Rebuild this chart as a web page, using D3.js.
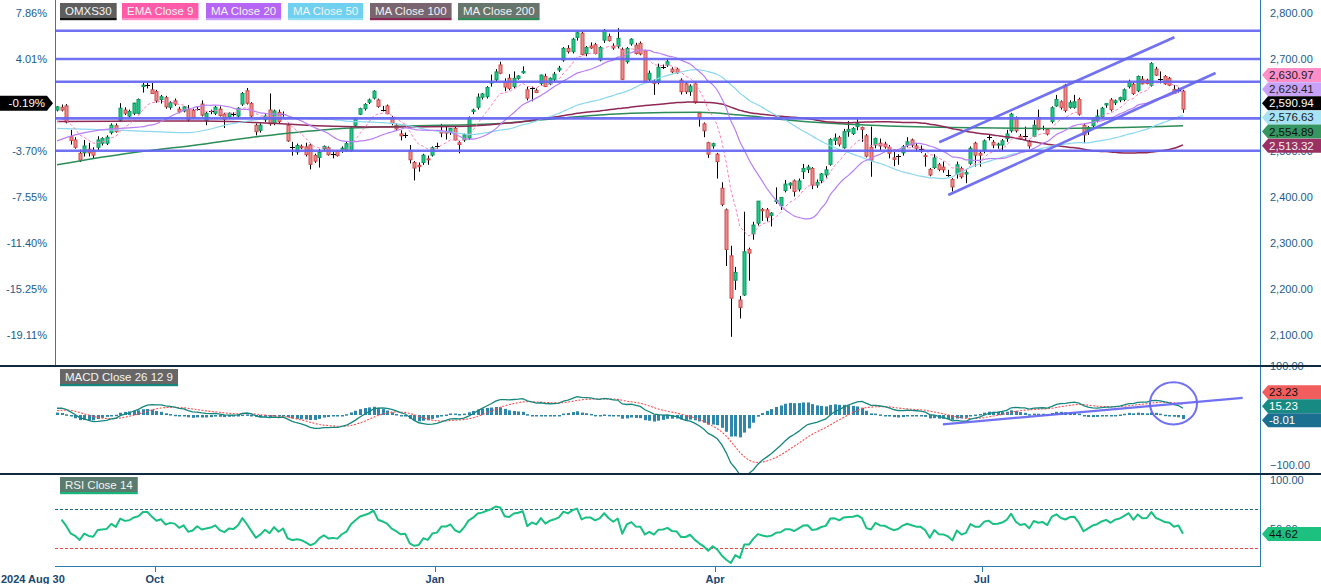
<!DOCTYPE html>
<html><head><meta charset="utf-8">
<script src="https://cdn.jsdelivr.net/npm/d3@7"></script>
<style>
html,body{margin:0;padding:0;background:#fff;}
svg{display:block;font-family:"Liberation Sans",Arial,sans-serif;}
</style></head><body>
<svg id="c" width="1321" height="584"></svg>
<script>
// ---------------- DATA ----------------
const opens = [
2589,2595,2598,2531,2524,2495,2496,2504,2501,2508,
2517,2517,2540,2555,2567,2589,2576,2582,2582,2640,
2643,2633,2629,2612,2616,2595,2609,2591,2587,2590,
2588,2592,2602,2566,2586,2582,2591,2580,2574,2580,
2576,2602,2631,2603,2556,2545,2568,2589,2560,2584,
2580,2556,2508,2498,2510,2509,2513,2490,2486,2505,
2507,2494,2499,2502,2502,2501,2556,2580,2592,2606,
2615,2611,2590,2598,2573,2556,2537,2535,2501,2475,
2469,2475,2483,2491,2511,2542,2542,2540,2549,2518,
2524,2528,2586,2595,2617,2618,2648,2655,2687,2649,
2658,2640,2658,2670,2633,2636,2632,2647,2662,2646,
2656,2676,2698,2723,2716,2747,2756,2712,2728,2731,
2698,2741,2749,2728,2728,2721,2694,2733,2730,2734,
2718,2656,2650,2649,2683,2687,2678,2678,2654,2646,
2629,2646,2582,2559,2518,2511,2493,2419,2372,2272,
2219,2176,2187,2286,2320,2343,2373,2372,2360,2390,
2381,2414,2426,2435,2417,2455,2460,2462,2426,2436,
2448,2471,2523,2529,2507,2542,2538,2553,2551,2533,
2508,2513,2517,2515,2508,2485,2489,2496,2513,2524,
2511,2505,2490,2460,2464,2470,2465,2448,2438,2450,
2462,2450,2473,2517,2495,2502,2530,2519,2513,2513,
2527,2544,2571,2532,2532,2520,2532,2573,2551,2547,
2564,2598,2607,2643,2595,2595,2612,2556,2544,2555,
2566,2575,2600,2611,2605,2611,2612,2640,2645,2631,
2656,2654,2643,2678,2656,2662,2658,2634,2632,2630];
const highs = [
2598,2601,2602,2546,2530,2503,2524,2518,2508,2532,
2530,2534,2560,2560,2604,2595,2590,2605,2614,2648,
2648,2648,2633,2622,2620,2608,2614,2596,2597,2600,
2592,2596,2610,2585,2590,2598,2597,2583,2584,2584,
2595,2628,2637,2606,2560,2560,2580,2625,2590,2590,
2586,2560,2520,2516,2514,2518,2516,2494,2504,2512,
2510,2500,2502,2510,2520,2552,2573,2594,2604,2614,
2632,2614,2598,2601,2576,2560,2545,2540,2513,2478,
2475,2494,2490,2510,2518,2559,2555,2550,2553,2522,
2538,2575,2592,2625,2626,2641,2666,2678,2694,2658,
2667,2673,2665,2684,2640,2640,2636,2666,2668,2660,
2672,2685,2726,2730,2746,2760,2760,2728,2736,2735,
2728,2765,2755,2734,2767,2725,2726,2745,2735,2738,
2720,2675,2656,2690,2688,2700,2682,2681,2658,2650,
2645,2650,2585,2562,2520,2518,2496,2432,2375,2294,
2248,2185,2368,2290,2346,2391,2376,2376,2367,2421,
2400,2437,2432,2438,2440,2472,2470,2465,2438,2452,
2467,2528,2538,2533,2548,2565,2552,2569,2553,2537,
2553,2529,2527,2520,2513,2498,2493,2513,2530,2527,
2517,2512,2495,2463,2493,2474,2477,2459,2441,2477,
2466,2458,2510,2520,2502,2525,2535,2524,2518,2526,
2546,2583,2575,2537,2553,2524,2567,2590,2555,2550,
2597,2622,2610,2646,2610,2622,2616,2560,2554,2573,
2590,2596,2604,2615,2612,2618,2636,2655,2649,2664,
2663,2657,2693,2683,2673,2665,2661,2643,2638,2633];
const lows = [
2586,2586,2560,2514,2505,2476,2488,2488,2484,2502,
2512,2513,2536,2540,2564,2578,2572,2578,2580,2627,
2636,2625,2605,2603,2592,2590,2598,2582,2584,2564,
2570,2588,2575,2556,2580,2578,2575,2550,2570,2575,
2572,2598,2601,2572,2534,2540,2563,2555,2556,2560,
2574,2520,2490,2492,2504,2488,2460,2474,2464,2500,
2490,2484,2488,2496,2498,2498,2554,2578,2588,2602,
2612,2594,2586,2580,2556,2546,2523,2528,2473,2436,
2455,2470,2470,2488,2505,2530,2525,2535,2523,2495,
2520,2524,2580,2590,2612,2614,2640,2650,2667,2630,
2632,2636,2655,2668,2610,2608,2626,2642,2640,2643,
2652,2672,2694,2712,2712,2740,2708,2706,2722,2710,
2695,2735,2738,2720,2723,2654,2690,2729,2710,2708,
2648,2650,2622,2645,2678,2683,2669,2668,2623,2624,
2620,2603,2553,2530,2485,2505,2440,2380,2250,2096,
2198,2136,2185,2218,2307,2338,2348,2347,2336,2385,
2372,2410,2418,2401,2412,2439,2452,2417,2420,2430,
2442,2468,2513,2510,2505,2531,2535,2545,2520,2486,
2444,2506,2502,2505,2484,2467,2470,2490,2508,2508,
2498,2496,2466,2445,2461,2456,2453,2444,2412,2440,
2440,2430,2470,2466,2466,2495,2523,2506,2505,2500,
2520,2540,2540,2524,2524,2505,2530,2545,2545,2534,
2560,2596,2590,2584,2592,2592,2577,2517,2535,2550,
2562,2570,2594,2586,2600,2606,2608,2636,2622,2628,
2645,2645,2640,2663,2647,2644,2641,2624,2627,2583];
const closes = [
2596,2589,2563,2523,2508,2480,2511,2496,2491,2524,
2527,2530,2556,2542,2593,2582,2586,2604,2612,2643,
2643,2625,2609,2618,2596,2605,2602,2585,2596,2568,
2573,2592,2578,2582,2586,2595,2577,2569,2582,2580,
2593,2625,2604,2576,2542,2556,2576,2559,2587,2564,
2580,2522,2508,2512,2507,2492,2471,2478,2497,2510,
2492,2494,2490,2506,2516,2549,2570,2592,2601,2611,
2630,2597,2590,2581,2560,2548,2533,2535,2481,2463,
2466,2491,2481,2507,2511,2539,2539,2549,2524,2514,
2535,2571,2589,2617,2624,2638,2650,2672,2669,2639,
2636,2658,2663,2673,2615,2636,2627,2665,2640,2658,
2667,2680,2723,2716,2743,2757,2710,2725,2724,2712,
2725,2762,2740,2724,2745,2656,2723,2743,2712,2711,
2651,2669,2647,2682,2683,2694,2672,2670,2629,2629,
2641,2605,2573,2544,2493,2516,2477,2384,2286,2180,
2236,2160,2281,2278,2339,2391,2370,2356,2365,2393,
2399,2428,2430,2412,2435,2462,2465,2426,2432,2450,
2459,2525,2528,2515,2542,2547,2549,2560,2547,2489,
2480,2527,2511,2509,2495,2482,2489,2509,2520,2513,
2506,2505,2489,2448,2485,2460,2459,2448,2422,2470,
2444,2453,2506,2491,2491,2522,2530,2513,2515,2522,
2537,2580,2544,2527,2532,2511,2556,2547,2551,2537,
2594,2612,2595,2588,2605,2607,2580,2535,2551,2568,
2576,2593,2603,2590,2609,2616,2633,2651,2625,2662,
2646,2647,2690,2665,2656,2646,2643,2625,2632,2590.94];

// moving-average values read before the full window is available ([index, value])
const ma20Early  = [[0,2522],[4,2535],[9,2545],[14,2549],[18,2552]];
const ma50Early  = [[0,2549],[15,2545],[29,2540],[39,2560],[48,2573]];
const ma100Early = [[0,2564],[17,2565],[32,2565],[46,2561],[61,2554],[76,2552],[88,2553],[98,2559]];
const ma200Read  = [[0,2470],[15,2494],[30,2512],[45,2532],[60,2547],[76,2554],[98,2560],[113,2573],
                    [127,2582],[142,2584],[151,2578],[162,2567],[180,2556],[198,2551],[220,2549],[249,2554.89]];
// indicator starting states
const ema9Seed = 2555;
const macdSeeds = [2570, 2556, 9];      // EMA12, EMA26, signal before first bar
const rsiSeeds = [11, 7];               // avg gain, avg loss before first bar

// drawn levels and annotations
const hLevels = [2761.5, 2700, 2650.5, 2571, 2500.5];
const channelUpper = [[195.1, 2518.9], [247.1, 2747.2]];
const channelLower = [[197.1, 2404.3], [256.2, 2669.6]];
const macdTrend = [[195.9, -17.2], [262.2, 36.0]];
const macdEllipse = [246.9, 24.8, 5.2, 42.4]; // centre index, centre value, radius (index), radius (value)

// axes
const priceTicks = [2800, 2700, 2600, 2500, 2400, 2300, 2200, 2100];
const macdTicks = [100, -100];
const rsiTicks = [100, 50];
const rsiLevels = [70, 30];
const xTickIdx = [21.6, 83.6, 145.5, 204.5];
const xTickLabels = ["Oct", "Jan", "Apr", "Jul"];
const firstDateLabel = "2024 Aug 30";

// last-value labels
const mainLastNames = ["EMA Close 9", "MA Close 20", "OMXS30", "MA Close 50", "MA Close 200", "MA Close 100"];
const mainLastValues = [2630.97, 2629.41, 2590.94, 2576.63, 2554.89, 2513.32];
const macdLastNames = ["signal", "macd", "hist"];
const macdLastValues = [23.23, 15.23, -8.01];
const rsiLastValue = 44.62;

const legendNames = ["OMXS30", "EMA Close 9", "MA Close 20", "MA Close 50", "MA Close 100", "MA Close 200"];

// ---------------- STYLES ----------------
const st = {
  "OMXS30":      {bg:"#5e5e5e", ul:"#111111", mk:"#000000", mt:"#ffffff"},
  "EMA Close 9": {bg:"#ff5ba9", ul:"#ff8fcb", line:"#ff7fc0", mk:"#ff8ec9", mt:"#222"},
  "MA Close 20": {bg:"#b566f5", ul:"#c99cf9", line:"#b87ff7", mk:"#c8a2f8", mt:"#222"},
  "MA Close 50": {bg:"#6fd0ef", ul:"#94def4", line:"#8ad7ef", mk:"#a6e3f4", mt:"#222"},
  "MA Close 100":{bg:"#786570", ul:"#8c2653", line:"#8e2857", mk:"#9a3162", mt:"#f2f2f2"},
  "MA Close 200":{bg:"#67766d", ul:"#2d8b57", line:"#2c8c57", mk:"#359660", mt:"#111"},
  "signal":{mk:"#f25d5d", mt:"#111"}, "macd":{mk:"#178a84", mt:"#fff"}, "hist":{mk:"#1b6f90", mt:"#fff"}
};
const axisCol = "#2b7bab", labCol = "#1d5b8a", lvlCol = "#6565f2";

// ---------------- GEOMETRY ----------------
const svg = d3.select("#c");
const N = closes.length;
const L = 55, R = 1260;
const x = d3.scaleLinear().domain([0, N - 1]).range([57, 1183]);
const yP = d3.scaleLinear().domain([2100, 2800]).range([335, 13]);
const yM = d3.scaleLinear().domain([-100, 100]).range([465.5, 366]);
const yR = d3.scaleLinear().domain([30, 70]).range([548.3, 509.3]);
const P = [[0, 366], [366, 474], [474, 566.5]];

const defs = svg.append("defs");
P.forEach((p, k) => defs.append("clipPath").attr("id", "cp" + k).append("rect")
  .attr("x", L).attr("y", p[0]).attr("width", R - L).attr("height", p[1] - p[0]));

// ---------------- INDICATORS ----------------
function sma(arr, n) { return arr.map((_, i) => i < n - 1 ? null : d3.mean(arr.slice(i - n + 1, i + 1))); }
function ema(arr, n, seed) { const k = 2 / (n + 1); let e = seed; return arr.map(v => (e = e + k * (v - e))); }
function hybrid(early, comp, n) {
  return early.filter(d => d[0] < n - 1).concat(comp.map((v, i) => [i, v]).filter(d => d[1] != null));
}
const ema9 = ema(closes, 9, ema9Seed).map((v, i) => [i, v]);
const ma20 = hybrid(ma20Early, sma(closes, 20), 20);
const ma50 = hybrid(ma50Early, sma(closes, 50), 50);
const ma100 = hybrid(ma100Early, sma(closes, 100), 100);
const e12 = ema(closes, 12, macdSeeds[0]), e26 = ema(closes, 26, macdSeeds[1]);
const macd = e12.map((v, i) => v - e26[i]);
const signal = ema(macd, 9, macdSeeds[2]);
const hist = macd.map((v, i) => v - signal[i]);
const rsi = [];
{ let ag = rsiSeeds[0], al = rsiSeeds[1];
  for (let i = 1; i < N; i++) { const d = closes[i] - closes[i - 1];
    ag = (ag * 13 + Math.max(d, 0)) / 14; al = (al * 13 + Math.max(-d, 0)) / 14;
    rsi.push([i, 100 - 100 / (1 + ag / al)]); } }

// ---------------- MAIN PANEL ----------------
const g1 = svg.append("g").attr("clip-path", "url(#cp0)");
const idx = d3.range(N);
const cx = i => Math.round(x(i)) + 0.5;
g1.append("g").selectAll("line").data(idx).join("line")
  .attr("x1", cx).attr("x2", cx).attr("y1", i => yP(highs[i])).attr("y2", i => yP(lows[i]))
  .attr("stroke", "#000").attr("stroke-width", 1);
const bodies = idx.filter(i => Math.abs(closes[i] - opens[i]) >= 0.5);
g1.append("g").selectAll("rect").data(bodies).join("rect")
  .attr("x", i => cx(i) - 1.5).attr("width", 3)
  .attr("y", i => yP(Math.max(opens[i], closes[i])))
  .attr("height", i => Math.max(1, Math.abs(yP(opens[i]) - yP(closes[i]))))
  .attr("fill", i => closes[i] >= opens[i] ? "#1fc98b" : "#e98e8e")
  .attr("stroke", i => closes[i] >= opens[i] ? "#10975f" : "#d04a4a").attr("stroke-width", 1);
const dojis = idx.filter(i => Math.abs(closes[i] - opens[i]) < 0.5);
g1.append("g").selectAll("line").data(dojis).join("line")
  .attr("x1", i => cx(i) - 2.5).attr("x2", i => cx(i) + 2.5)
  .attr("y1", i => Math.round(yP(closes[i])) + 0.5).attr("y2", i => Math.round(yP(closes[i])) + 0.5)
  .attr("stroke", "#000").attr("stroke-width", 1);

const lineP = d3.line().x(d => x(d[0])).y(d => yP(d[1]));
const curveP = d3.line().x(d => x(d[0])).y(d => yP(d[1])).curve(d3.curveMonotoneX);
g1.append("path").attr("d", curveP(ma200Read)).attr("fill", "none").attr("stroke", st["MA Close 200"].line).attr("stroke-width", 1.5);
g1.append("path").attr("d", curveP(ma100)).attr("fill", "none").attr("stroke", st["MA Close 100"].line).attr("stroke-width", 1.5);
g1.append("path").attr("d", curveP(ma50)).attr("fill", "none").attr("stroke", st["MA Close 50"].line).attr("stroke-width", 1.2);
g1.append("path").attr("d", curveP(ma20)).attr("fill", "none").attr("stroke", st["MA Close 20"].line).attr("stroke-width", 1.2);
g1.append("path").attr("d", lineP(ema9)).attr("fill", "none").attr("stroke", st["EMA Close 9"].line).attr("stroke-width", 1).attr("stroke-dasharray", "3,2");

g1.append("g").selectAll("line").data(hLevels).join("line")
  .attr("x1", L).attr("x2", R).attr("y1", d => yP(d)).attr("y2", d => yP(d))
  .attr("stroke", lvlCol).attr("stroke-width", 2.6).attr("opacity", 0.92);
[channelUpper, channelLower].forEach(c => g1.append("path").attr("d", lineP(c))
  .attr("stroke", lvlCol).attr("stroke-width", 2.6).attr("opacity", 0.92).attr("fill", "none"));

// ---------------- MACD PANEL ----------------
const g2 = svg.append("g").attr("clip-path", "url(#cp1)");
g2.append("g").selectAll("rect").data(idx).join("rect")
  .attr("x", i => cx(i) - 1.5).attr("width", 3)
  .attr("y", i => Math.min(yM(0), yM(hist[i])) - 0.75)
  .attr("height", i => Math.max(1.5, Math.abs(yM(hist[i]) - yM(0))))
  .attr("fill", "#2e86ab");
const lineM = d3.line().x(d => x(d[0])).y(d => yM(d[1]));
g2.append("path").attr("d", lineM(signal.map((v, i) => [i, v]))).attr("fill", "none")
  .attr("stroke", "#ff4d4d").attr("stroke-width", 1.1).attr("stroke-dasharray", "2,1.5");
g2.append("path").attr("d", lineM(macd.map((v, i) => [i, v]))).attr("fill", "none")
  .attr("stroke", "#16877f").attr("stroke-width", 1.3);
g2.append("path").attr("d", lineM(macdTrend)).attr("stroke", lvlCol).attr("stroke-width", 2.2).attr("fill", "none").attr("opacity", 0.92);
g2.append("ellipse").attr("cx", x(macdEllipse[0])).attr("cy", yM(macdEllipse[1]))
  .attr("rx", x(macdEllipse[0] + macdEllipse[2]) - x(macdEllipse[0]))
  .attr("ry", yM(macdEllipse[1] - macdEllipse[3]) - yM(macdEllipse[1]))
  .attr("fill", "none").attr("stroke", lvlCol).attr("stroke-width", 2).attr("opacity", 0.92);

// ---------------- RSI PANEL ----------------
const g3 = svg.append("g").attr("clip-path", "url(#cp2)");
g3.append("g").selectAll("line").data(rsiLevels).join("line")
  .attr("x1", L).attr("x2", R).attr("y1", d => Math.round(yR(d)) + 0.5).attr("y2", d => Math.round(yR(d)) + 0.5)
  .attr("stroke", (d, k) => k === 0 ? "#1c6a8c" : "#f04848").attr("stroke-width", 1).attr("stroke-dasharray", "3,2");
g3.append("path").attr("d", d3.line().x(d => x(d[0])).y(d => yR(d[1]))(rsi)).attr("fill", "none")
  .attr("stroke", "#19c082").attr("stroke-width", 2).attr("stroke-linejoin", "round");

// ---------------- LAST VALUE MARKER LAYOUT ----------------
function layout(items, sp, off) {
  const s = items.slice().sort((a, b) => a.ny - b.ny);
  let groups = s.map(d => ({items: [d], mean: d.ny}));
  let merged = true;
  while (merged) {
    merged = false;
    for (let k = 0; k < groups.length - 1; k++) {
      const a = groups[k], b = groups[k + 1];
      const botA = a.mean + (a.items.length - 1) * sp / 2;
      const topB = b.mean - (b.items.length - 1) * sp / 2;
      if (topB - botA < sp) {
        const it = a.items.concat(b.items);
        groups.splice(k, 2, {items: it, mean: d3.mean(it, d => d.ny)});
        merged = true; break;
      }
    }
  }
  groups.forEach(g => {
    const o = g.items.length > 1 ? off : 0;
    const top = g.mean - (g.items.length - 1) * sp / 2 + o;
    g.items.forEach((d, j) => d.ly = top + j * sp);
  });
}
const mItems = mainLastValues.map((v, k) => ({v, name: mainLastNames[k], ny: yP(v)}));
layout(mItems, 14.15, -2.6);
const closeItem = mItems.find(d => d.name === "OMXS30");
const kItems = macdLastValues.map((v, k) => ({v, name: macdLastNames[k], ny: yM(v)}));
layout(kItems, 14, -4.5);
// a tick label that sits fully under a marker cannot be seen: skip it
const hiddenBy = (yy, list) => list.some(ly => Math.abs(ly - yy) < 4.5);
const mainMarkY = mItems.map(d => d.ly);

// ---------------- FRAME & AXES ----------------
svg.append("line").attr("x1", L + 0.5).attr("x2", L + 0.5).attr("y1", 0).attr("y2", 366).attr("stroke", axisCol);
svg.append("line").attr("x1", R + 0.5).attr("x2", R + 0.5).attr("y1", 0).attr("y2", 567).attr("stroke", axisCol);
svg.append("line").attr("x1", L).attr("x2", R).attr("y1", 566.5).attr("y2", 566.5).attr("stroke", axisCol);
[366, 474].forEach(yy => svg.append("line").attr("x1", 0).attr("x2", 1321).attr("y1", yy).attr("y2", yy)
  .attr("stroke", "#0e2a3c").attr("stroke-width", 2));

const fmt = d3.format(",.2f");
const base = closes[0];
const visTicks = priceTicks.filter(d => !hiddenBy(yP(d), mainMarkY));
svg.append("g").selectAll("text").data(visTicks).join("text")
  .attr("x", 1270).attr("y", d => yP(d)).attr("dy", "0.35em").attr("font-size", 11).attr("fill", labCol).text(d => fmt(d));
svg.append("g").selectAll("text").data(visTicks).join("text")
  .attr("x", 47).attr("y", d => yP(d)).attr("dy", "0.35em").attr("text-anchor", "end").attr("font-size", 11)
  .attr("fill", labCol).text(d => ((d / base - 1) * 100).toFixed(2) + "%");
svg.append("g").selectAll("text").data(macdTicks).join("text")
  .attr("x", 1270).attr("y", d => yM(d)).attr("dy", "0.35em").attr("font-size", 11).attr("fill", labCol).text(d => fmt(d));
svg.append("g").selectAll("text").data(rsiTicks).join("text")
  .attr("x", 1270).attr("y", d => yR(d)).attr("dy", "0.35em").attr("font-size", 11).attr("fill", labCol).text(d => fmt(d));
svg.append("line").attr("x1", 1260).attr("x2", 1321).attr("y1", 366).attr("y2", 366).attr("stroke", "#0e2a3c").attr("stroke-width", 2);

svg.append("g").selectAll("line").data(xTickIdx).join("line")
  .attr("x1", d => Math.round(x(d)) + 0.5).attr("x2", d => Math.round(x(d)) + 0.5).attr("y1", 567).attr("y2", 572).attr("stroke", axisCol);
svg.append("g").selectAll("text").data(xTickIdx).join("text")
  .attr("x", d => x(d)).attr("y", 579).attr("dy", "0.35em").attr("text-anchor", "middle")
  .attr("font-size", 11).attr("font-weight", "bold").attr("fill", "#1a4670").text((d, k) => xTickLabels[k]);
svg.append("text").attr("x", 1).attr("y", 579).attr("dy", "0.35em").attr("font-size", 11)
  .attr("font-weight", "bold").attr("fill", "#1a4670").text(firstDateLabel);

// ---------------- LEGENDS ----------------
function legendBox(xs, y, label, bg, ul) {
  const g = svg.append("g");
  const t = g.append("text").attr("x", xs + 5).attr("y", y + 7.5).attr("dy", "0.35em").attr("font-size", 11.5)
    .attr("fill", "#f4f4f4").text(label);
  const w = t.node().getComputedTextLength() + 10;
  g.insert("rect", "text").attr("x", xs).attr("y", y).attr("width", w).attr("height", 15).attr("fill", bg);
  g.insert("rect", "text").attr("x", xs).attr("y", y + 15).attr("width", w).attr("height", 2.2).attr("fill", ul);
}
const legX = [60, 122, 206, 288, 370, 458];
legendNames.forEach((n, k) => legendBox(legX[k], 3, n, st[n].bg, st[n].ul));
legendBox(60, 369, "MACD Close 26 12 9", "#666666", "#13857c");
legendBox(60, 477, "RSI Close 14", "#5b7b6f", "#18b47a");

// ---------------- LAST VALUE MARKERS ----------------
function marker(ly, text, bg, fg) {
  const h = 7;
  svg.append("path").attr("d", `M1262,${ly}L1268,${ly - h}L1321,${ly - h}L1321,${ly + h}L1268,${ly + h}Z`).attr("fill", bg);
  svg.append("text").attr("x", 1269).attr("y", ly).attr("dy", "0.35em").attr("font-size", 11.5).attr("fill", fg).text(text);
}
mItems.forEach(d => marker(d.ly, fmt(d.v), st[d.name].mk, st[d.name].mt));
svg.append("path").attr("d", `M0,${closeItem.ly - 7.5}L47,${closeItem.ly - 7.5}L53,${closeItem.ly}L47,${closeItem.ly + 7.5}L0,${closeItem.ly + 7.5}Z`).attr("fill", "#000");
svg.append("text").attr("x", 45).attr("y", closeItem.ly).attr("dy", "0.35em").attr("text-anchor", "end")
  .attr("font-size", 11.5).attr("fill", "#fff").text(((closeItem.v / base - 1) * 100).toFixed(2) + "%");
kItems.forEach(d => marker(d.ly, d.v.toFixed(2), st[d.name].mk, st[d.name].mt));
marker(yR(rsiLastValue), rsiLastValue.toFixed(2), "#1cc07f", "#111");
</script>
</body></html>
